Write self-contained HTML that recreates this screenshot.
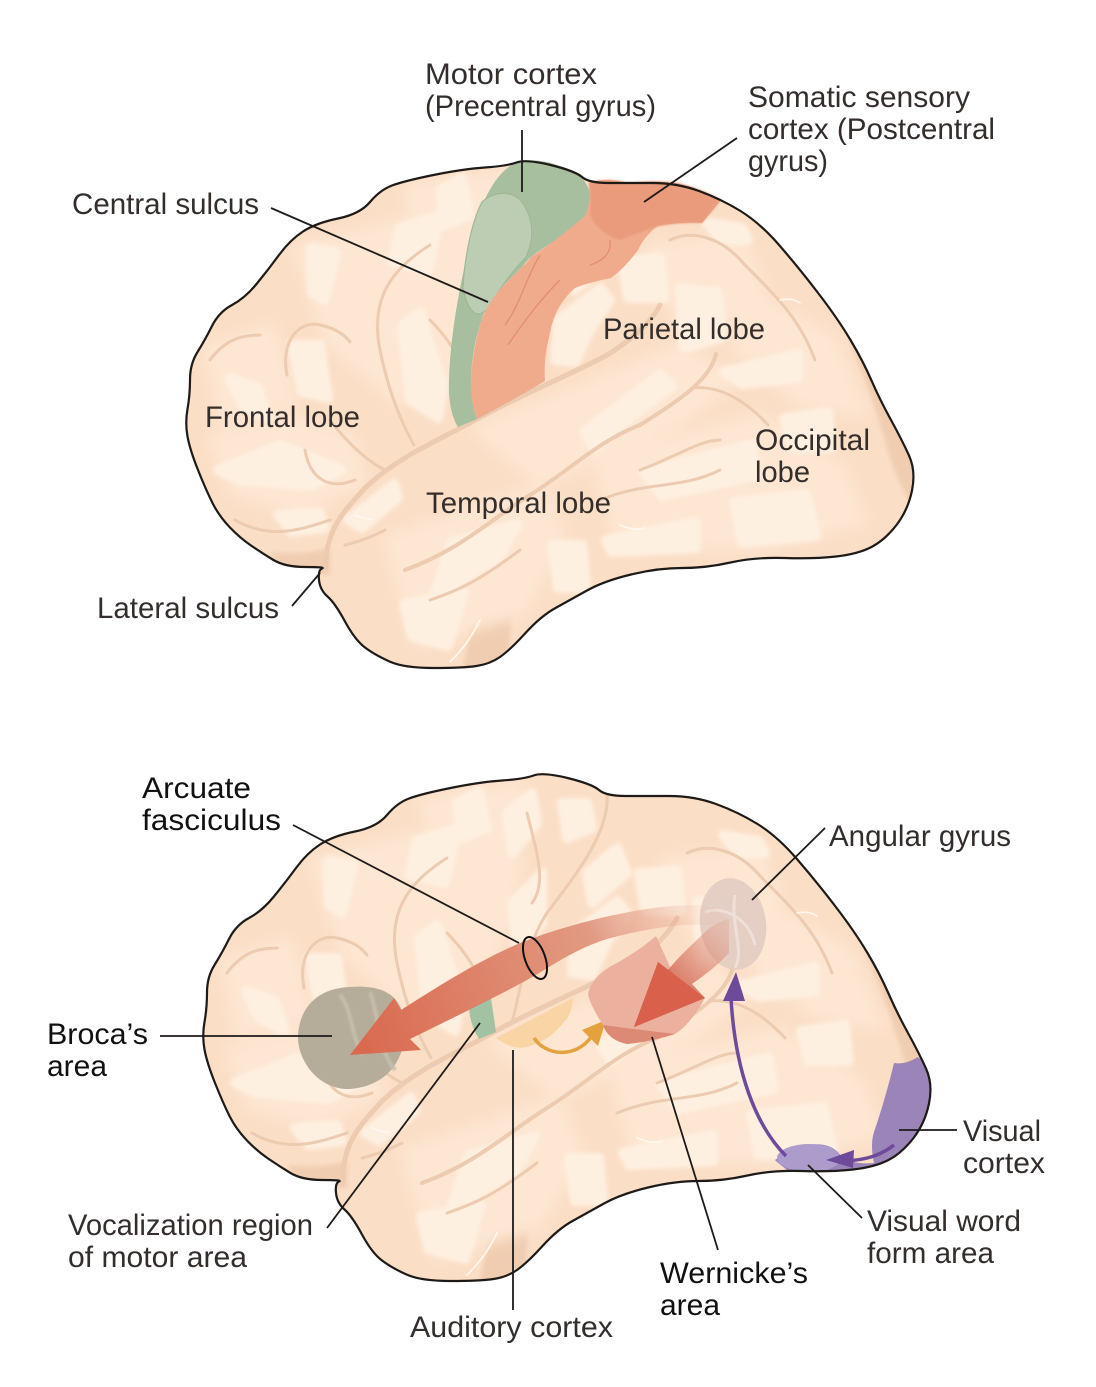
<!DOCTYPE html>
<html><head><meta charset="utf-8"><title>Brain language areas</title>
<style>
html,body{margin:0;padding:0;background:#fff;width:1096px;height:1387px;overflow:hidden}
svg{display:block}
text{font-family:"Liberation Sans",sans-serif;font-size:30px;fill:#332e2b}
.d{fill:#111}
.l{stroke:#1d1a18;stroke-width:1.8;fill:none}
.hi polygon{fill:#fef0e1;stroke:#fef0e1;stroke-width:10;stroke-linejoin:round}
.md polygon{fill:#fde6d2;stroke:#fde6d2;stroke-width:14;stroke-linejoin:round}
.su path{fill:none;stroke:#eccbb0;stroke-width:3;stroke-linecap:round}
.wh path{fill:none;stroke:#fff8f0;stroke-width:1.6;stroke-linecap:round}
</style></head><body>
<svg width="1096" height="1387" viewBox="0 0 1096 1387" xmlns="http://www.w3.org/2000/svg">
<defs>
<filter id="b1" x="-5%" y="-5%" width="110%" height="110%"><feGaussianBlur stdDeviation="2"/></filter>
<filter id="b2" x="-5%" y="-5%" width="110%" height="110%"><feGaussianBlur stdDeviation="6"/></filter>
<filter id="b3" x="-10%" y="-10%" width="120%" height="120%"><feGaussianBlur stdDeviation="1"/></filter>
<path id="o" d="M305.5,567Q285,567 273.5,560Q262,553 251,545.5Q240,538 229.5,527Q219,516 212.5,503Q206,490 198,470Q190,450 187.5,436.5Q185,423 187.5,409Q190,395 190,379.5Q190,364 197.5,352Q205,340 212,326Q219,312 232,305Q245,298 256.5,284Q268,270 279,255Q290,240 303,231.5Q316,223 338,218.5Q360,214 370,202Q380,190 392,185.5Q404,181 433.5,175Q463,169 485,167.5Q507,166 516.5,162.5Q526,159 550.5,165Q575,171 582,177Q589,183 608.5,183Q628,183 652.5,183Q677,183 699,191Q721,199 740.5,211Q760,223 779.5,245.5Q799,268 818.5,293.5Q838,319 850.5,340Q863,361 871.5,380.5Q880,400 891,420Q902,440 909,455.5Q916,471 912,490.5Q908,510 896.5,525Q885,540 871.5,547Q858,554 836,556.5Q814,559 784.5,558Q755,557 730.5,562.5Q706,568 682,568Q658,568 631,574.5Q604,581 587,590.5Q570,600 555.5,608Q541,616 525.5,633Q510,650 500,657Q490,664 476.5,666Q463,668 433.5,668Q404,668 389.5,661.5Q375,655 365,647.5Q355,640 345,621.5Q335,603 327.5,596.5Q320,590 319,580Q318,570 322,568.5Q326,567 305.5,567Z"/>
<clipPath id="c"><use href="#o"/></clipPath>
<clipPath id="c2"><use href="#o" transform="translate(17,613)"/></clipPath>
<g id="brain">
<use href="#o" fill="#fbdec6"/>
<g clip-path="url(#c)">
<g fill="#f0cdb1" filter="url(#b1)">
<path d="M845,330Q880,390 925,470L915,510Q895,480 885,440Q870,390 845,330Z"/>
<path d="M462,672L472,625Q490,605 512,598L508,672Z"/>
<path d="M285,572L330,575L330,548Q300,556 270,552Z"/>
</g>
<g class="md" filter="url(#b2)">
<polygon points="215,440 290,420 350,440 360,480 300,510 235,490"/>
<polygon points="600,460 760,420 840,470 860,520 760,545 620,540"/>
<polygon points="390,540 540,490 560,540 520,610 420,640"/>
<polygon points="480,430 680,350 730,380 680,420 540,480"/>
<polygon points="740,290 830,340 860,410 800,400 740,350"/>
<polygon points="300,250 420,220 430,320 400,400 330,340"/>
<polygon points="210,350 270,330 290,400 225,420"/>
<polygon points="410,190 500,175 495,300 440,400"/>
<polygon points="650,250 740,240 760,290 690,340"/>
</g>
<g class="hi" filter="url(#b1)">
<polygon points="440,190 462,178 470,215 445,225"/>
<polygon points="400,228 440,215 428,270 392,262"/>
<polygon points="311,248 336,252 325,300 312,292"/>
<polygon points="402,325 420,312 443,385 438,418 410,400"/>
<polygon points="292,345 320,345 328,398 302,392"/>
<polygon points="229,378 258,388 268,418 242,405"/>
<polygon points="218,470 280,445 342,470 310,486 240,480"/>
<polygon points="278,515 320,512 325,528 292,532"/>
<polygon points="600,288 610,300 590,330 575,362 555,360 558,320"/>
<polygon points="622,260 660,258 664,298 628,298"/>
<polygon points="680,288 718,292 722,338 684,348"/>
<polygon points="706,222 742,228 748,240 722,240"/>
<polygon points="724,372 798,354 798,378 742,384"/>
<polygon points="784,418 828,412 832,448 792,448"/>
<polygon points="584,432 660,374 672,386 640,410 594,448"/>
<polygon points="348,520 394,484 398,498 362,528"/>
<polygon points="452,542 518,524 498,558 434,596"/>
<polygon points="644,472 752,444 756,476 662,496"/>
<polygon points="606,540 696,522 696,548 612,552"/>
<polygon points="734,502 806,494 816,536 742,542"/>
<polygon points="552,545 582,545 586,588 558,588"/>
<polygon points="404,604 464,592 448,646 412,636"/>
<polygon points="490,200 515,180 520,210 495,240"/>
<polygon points="545,190 570,190 575,215 550,225"/>
<polygon points="495,290 525,260 525,310 500,340"/>
<polygon points="570,260 600,235 610,260 575,290"/>
</g>
<g class="su">
<path d="M430,245C390,270 370,300 380,350C388,390 400,420 414,445"/>
<path d="M287,375C280,340 300,320 320,325C335,328 345,335 350,342"/>
<path d="M210,360C225,340 240,335 260,335"/>
<path d="M305,450C310,480 330,490 355,480"/>
<path d="M235,520C270,540 300,530 330,520"/>
<path d="M430,320C460,350 470,380 475,410"/>
<path d="M345,545C365,540 375,535 385,530"/>
<path d="M716,354C710,380 680,400 640,425C600,440 570,470 530,495C490,520 460,550 405,570" style="stroke-width:4"/>
<path d="M692,388C720,385 745,400 768,425"/>
<path d="M670,240C690,230 720,235 745,265C780,300 800,320 815,360"/>
<path d="M326,567C325,530 345,510 365,488C400,455 440,440 477,419C520,395 570,375 609,354C630,340 650,325 660,305" style="stroke-width:5"/>
<path d="M590,183C592,220 560,260 530,300C510,330 505,370 495,410"/>
<path d="M510,200C520,240 530,270 515,290"/>
<path d="M640,470C680,455 700,440 720,440"/>
<path d="M330,420C345,440 365,460 385,470"/>
<path d="M600,500C650,480 680,490 720,470"/>
<path d="M430,600C460,590 480,580 520,550"/>
</g>
<g class="wh">
<path d="M355,515C362,518 368,520 372,519"/>
<path d="M620,650L612,660"/>
<path d="M620,525C632,530 640,530 645,528"/>
<path d="M780,300C790,298 795,300 800,303"/>
<path d="M480,620C470,640 462,650 450,662"/>
</g>
</g>
</g>
<linearGradient id="ag" gradientUnits="userSpaceOnUse" x1="700" y1="910" x2="360" y2="1050"><stop offset="0" stop-color="#e7a690" stop-opacity=".1"/><stop offset=".3" stop-color="#e29a82"/><stop offset="1" stop-color="#d9694f"/></linearGradient>
<linearGradient id="wg" gradientUnits="userSpaceOnUse" x1="730" y1="925" x2="660" y2="1000"><stop offset="0" stop-color="#e2a594" stop-opacity=".35"/><stop offset="1" stop-color="#cf553f"/></linearGradient>
</defs>

<!-- TOP BRAIN -->
<use href="#brain"/>
<path d="M513,164C500,172 492,185 487,195C478,212 472,230 466,260C458,295 450,340 449,381C448,400 452,418 458,427L477,419C472,405 471,395 471,381C472,350 477,335 482,319C488,300 500,288 511,278C520,270 526,262 531,257C550,242 575,232 585,216C590,205 591,198 589,190C585,178 575,170 560,166C545,160 525,158 513,164Z" fill="#a8bf9f"/>
<path d="M482,202C495,190 515,190 524,205C534,222 534,240 526,257C512,272 498,290 492,305C480,318 470,320 463,288C464,265 470,225 482,202Z" fill="#bccdb3" stroke="#9fb896" stroke-width="1.2"/>
<path d="M589,183Q605,177 628,183Q655,180 677,183Q700,188 721,200L702,223Q680,222 658,226Q645,235 638,250Q625,268 611,278Q590,282 575,288Q555,305 550,333Q543,360 545,381Q510,402 477,419Q470,400 471,381Q472,350 482,319Q490,298 511,278Q528,262 531,257Q560,238 585,216Q592,200 589,183Z" fill="#f0ab8d"/>
<path d="M589,183Q605,177 628,183Q655,180 677,183Q700,188 721,200L702,223Q680,222 658,226Q640,232 620,240Q600,235 590,215Q592,200 589,183Z" fill="#e99b7b" filter="url(#b3)"/>
<g fill="none" stroke="#e28e70" stroke-width="1.3"><path d="M540,255C525,280 520,305 505,325"/><path d="M560,280C540,300 525,320 508,345"/><path d="M610,240C612,255 600,262 590,265"/></g>
<use href="#o" fill="none" stroke="#1d1a18" stroke-width="2.2"/>

<!-- BOTTOM BRAIN -->
<g transform="translate(17,613)"><use href="#brain"/></g>

<!-- Broca -->
<path d="M350,987C375,985 400,990 404,1020C408,1050 395,1085 350,1089C318,1090 297,1060 298,1035C300,1005 320,988 350,987Z" fill="#b5ad9a"/>
<path d="M340,995C352,1010 350,1030 362,1055M370,992C380,1020 378,1050 395,1070" fill="none" stroke="#c5beac" stroke-width="4" filter="url(#b3)"/>
<!-- vocal / auditory -->
<path d="M469,1008L491,998L496,1032L479,1039Q470,1025 469,1008Z" fill="#a3c2a3"/>
<path d="M496,1038L573,998Q572,1015 564,1022Q550,1040 530,1046Q515,1052 496,1038Z" fill="#f9d4a5"/>
<path d="M534,1038C545,1055 575,1060 592,1036" fill="none" stroke="#e3a23e" stroke-width="3.5"/>
<polygon points="606,1020 582,1030 598,1046" fill="#e3a23e"/>
<!-- Wernicke -->
<path d="M656,936L676,980L705,998Q690,1025 675,1034Q650,1042 627,1044Q608,1040 603,1025Q590,1005 588,994Q592,975 617,963Q640,950 656,936Z" fill="#ebb09e"/>
<path d="M603,1025Q640,1030 675,1034Q650,1042 627,1044Q608,1040 603,1025Z" fill="#dc8a75"/>
<!-- Angular -->
<ellipse cx="733" cy="924" rx="33" ry="46" transform="rotate(-8 733 924)" fill="#e3ccc1" opacity=".92"/>
<path d="M705,912C725,905 750,920 755,945M735,895C730,925 745,950 735,968" fill="none" stroke="#efdfd8" stroke-width="3"/>
<!-- Arcuate -->
<path d="M350,1055L394,998L401,1010C440,985 480,960 520,943C565,925 640,905 695,905C715,905 726,915 729,925L705,925C680,923 640,930 607,939C585,946 565,957 549,967C525,982 500,995 410,1039L421,1050Z" fill="url(#ag)"/>
<!-- Wernicke arrow -->
<path d="M634,1027L658,962L668,970C680,955 695,942 705,932C712,925 724,920 729,919L729,953C718,965 705,975 692,984L705,998Z" fill="url(#wg)"/>
<polygon points="634,1027 658,962 705,998" fill="#d9604a"/>
<!-- ellipse marker -->
<ellipse cx="535" cy="958" rx="10" ry="22" transform="rotate(-20 535 958)" fill="none" stroke="#111" stroke-width="2"/>
<!-- Purple -->
<g clip-path="url(#c2)">
<path d="M918,1057Q940,1075 940,1105Q935,1140 913,1160Q900,1175 889,1180Q860,1182 840,1180Q810,1178 790,1172Q780,1165 775,1160Q790,1150 800,1146Q830,1140 840,1155Q850,1165 874,1163Q870,1145 874,1132Q885,1100 894,1063Q905,1065 918,1057Z" fill="#9b85b8"/>
<ellipse cx="809" cy="1158" rx="32" ry="14" fill="#ab9ccc"/>
</g>
<path d="M786,1156C755,1125 735,1070 731,998" fill="none" stroke="#6e4a9a" stroke-width="3.5"/>
<polygon points="736,972 723,1001 745,1001" fill="#6e4a9a"/>
<path d="M894,1145C880,1156 865,1160 845,1161" fill="none" stroke="#6e4a9a" stroke-width="3.5"/>
<polygon points="826,1160 854,1150 853,1168" fill="#6e4a9a"/>
<use href="#o" fill="none" stroke="#1d1a18" stroke-width="2.2" transform="translate(17,613)"/>

<!-- leaders -->
<g class="l">
<path d="M522,130V192"/><path d="M737,138L644,202"/><path d="M271,208L488,302"/><path d="M292,606L320,573"/>
<path d="M293,825L519,943"/><path d="M825,828L752,900"/><path d="M160,1036H332"/><path d="M327,1228L480,1023"/>
<path d="M513,1310V1050"/><path d="M718,1250L652,1037"/><path d="M862,1218L808,1165"/><path d="M957,1130H899"/>
</g>

<!-- labels -->
<text x="425" y="84" textLength="172" lengthAdjust="spacingAndGlyphs">Motor cortex</text>
<text x="425" y="116" textLength="231" lengthAdjust="spacingAndGlyphs">(Precentral gyrus)</text>
<text x="748" y="107" textLength="222" lengthAdjust="spacingAndGlyphs">Somatic sensory</text>
<text x="748" y="139" textLength="247" lengthAdjust="spacingAndGlyphs">cortex (Postcentral</text>
<text x="748" y="171" textLength="80" lengthAdjust="spacingAndGlyphs">gyrus)</text>
<text x="72" y="214" textLength="187" lengthAdjust="spacingAndGlyphs">Central sulcus</text>
<text x="603" y="339" textLength="162" lengthAdjust="spacingAndGlyphs">Parietal lobe</text>
<text x="205" y="427" textLength="155" lengthAdjust="spacingAndGlyphs">Frontal lobe</text>
<text x="755" y="450" textLength="115" lengthAdjust="spacingAndGlyphs">Occipital</text>
<text x="755" y="482" textLength="55" lengthAdjust="spacingAndGlyphs">lobe</text>
<text x="426" y="513" textLength="185" lengthAdjust="spacingAndGlyphs">Temporal lobe</text>
<text x="97" y="618" textLength="182" lengthAdjust="spacingAndGlyphs">Lateral sulcus</text>
<text class="d" x="142" y="798" textLength="109" lengthAdjust="spacingAndGlyphs">Arcuate</text>
<text class="d" x="142" y="830" textLength="139" lengthAdjust="spacingAndGlyphs">fasciculus</text>
<text x="829" y="846" textLength="182" lengthAdjust="spacingAndGlyphs">Angular gyrus</text>
<text class="d" x="47" y="1044" textLength="101" lengthAdjust="spacingAndGlyphs">Broca’s</text>
<text class="d" x="47" y="1076" textLength="60" lengthAdjust="spacingAndGlyphs">area</text>
<text x="963" y="1141" textLength="78" lengthAdjust="spacingAndGlyphs">Visual</text>
<text x="963" y="1173" textLength="82" lengthAdjust="spacingAndGlyphs">cortex</text>
<text x="867" y="1231" textLength="154" lengthAdjust="spacingAndGlyphs">Visual word</text>
<text x="867" y="1263" textLength="127" lengthAdjust="spacingAndGlyphs">form area</text>
<text x="68" y="1235" textLength="245" lengthAdjust="spacingAndGlyphs">Vocalization region</text>
<text x="68" y="1267" textLength="179" lengthAdjust="spacingAndGlyphs">of motor area</text>
<text class="d" x="660" y="1283" textLength="148" lengthAdjust="spacingAndGlyphs">Wernicke’s</text>
<text class="d" x="660" y="1315" textLength="60" lengthAdjust="spacingAndGlyphs">area</text>
<text x="410" y="1337" textLength="203" lengthAdjust="spacingAndGlyphs">Auditory cortex</text>
</svg>
</body></html>
